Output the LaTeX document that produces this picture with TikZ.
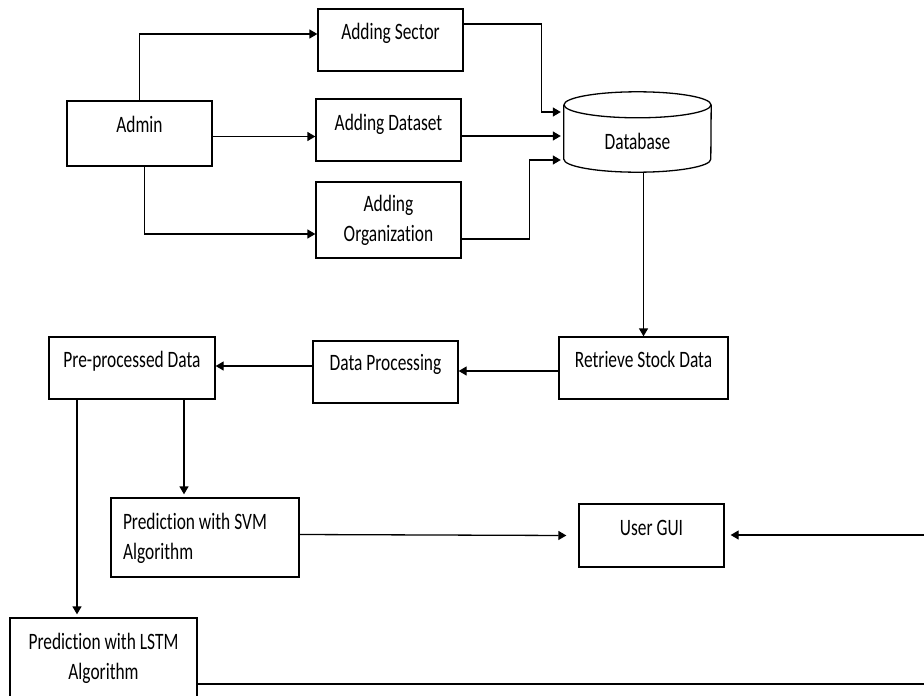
\documentclass[tikz,border=0pt]{standalone}
\usepackage{fontspec}
\setmainfont{Carlito}[FakeStretch=0.74, Ligatures=NoCommon]
\usepackage{tikz}
\usetikzlibrary{arrows.meta, positioning, calc}

\begin{document}
\begin{tikzpicture}[x=1pt, y=-1pt,
    box/.style={draw, line width=1.3pt, inner sep=0pt, align=center,
      font=\fontsize{23.5}{30}\selectfont},
    arr/.style={line width=1.3pt, -{Triangle[length=8pt, width=9pt]}},
    plain/.style={line width=1.3pt}]
  \useasboundingbox (0,0) rectangle (924,696);

  % Admin and what it adds
  \node[box, minimum width=145pt, text height=31pt, text depth=34pt] (admin) at (139.5,133.5) {Admin};
  \node[box, minimum width=145pt, text height=30pt, text depth=32pt] (sector) at (390.5,40) {Adding Sector};
  \node[box, minimum width=145pt, text height=31pt, text depth=31pt] (dataset) at (388.5,130) {Adding Dataset};
  \node[box, minimum width=145pt, text height=59pt, text depth=17pt] (org) at (388.5,220) {Adding\\Organization};

  % Database
  \node[inner sep=0pt, minimum width=147pt, text height=57pt, text depth=23pt,
    font=\fontsize{23.5}{30}\selectfont] (db) at (637.5,132) {Database};
  \draw[plain] ([yshift=-13pt]db.north) ellipse [x radius=73.5pt, y radius=13pt];
  \draw[plain] ([yshift=-13pt]db.north west) -- ([yshift=13pt]db.south west)
    arc [start angle=180, end angle=360, x radius=73.5pt, y radius=13pt]
    -- ([yshift=-13pt]db.north east);

  % Processing chain
  \node[box, minimum width=169pt, text height=30pt, text depth=32pt] (retrieve) at (643.5,368) {Retrieve Stock Data};
  \node[box, minimum width=145pt, text height=29pt, text depth=33pt] (proc) at (385.5,372) {Data Processing};
  \node[box, minimum width=166pt, text height=30pt, text depth=32pt] (pre) at (132,368) {Pre-processed Data};

  % Predictions and GUI
  \node[box, inner xsep=12pt, text width=164pt, align=flush left, text height=31pt, text depth=48pt] (svm) at (205,537.5) {Prediction with SVM\\Algorithm};
  \node[box, minimum width=145pt, text height=31pt, text depth=32pt] (gui) at (651.5,535.5) {User GUI};
  \node[box, minimum width=187pt, text height=61pt, text depth=19pt] (lstm) at (103.5,658) {Prediction with LSTM\\Algorithm};

  \coordinate (edgeA) at (924,535);
  \coordinate (edgeB) at (924,684);

  % Admin arrows
  \draw[arr] (admin.north) |- ([yshift=6pt]sector.west);
  \draw[arr] ([yshift=-3pt]admin.east) -- ([yshift=-3pt]admin.east -| dataset.west);
  \draw[arr] ([xshift=5pt]admin.south) |- ([yshift=-14pt]org.west);

  % Into the database
  \draw[arr] ([yshift=16pt]sector.east) -| ([xshift=-22pt, yshift=20pt]db.west) -- ([xshift=-3pt, yshift=20pt]db.west);
  \draw[arr] ([yshift=-6pt]dataset.east) -- ([xshift=-3pt, yshift=-4pt]db.west);
  \draw[arr] ([yshift=-19pt]org.east) -| ([xshift=-34pt, yshift=-28pt]db.west) -- ([xshift=-3pt, yshift=-28pt]db.west);

  % Down and left
  \draw[arr] (db.south -| retrieve.north) -- (retrieve.north);
  \draw[arr] ([yshift=-3pt]retrieve.west) -- ([yshift=-3pt]retrieve.west -| proc.east);
  \draw[arr] ([yshift=6pt]proc.west) -- ([yshift=6pt]proc.west -| pre.east);
  \draw[arr] ([xshift=52pt]pre.south) -- ([xshift=52pt, yshift=3pt]pre.south |- svm.north);
  \draw[arr] ([xshift=-55pt]pre.south) -- ([xshift=-55pt, yshift=3pt]pre.south |- lstm.north);

  % To the GUI
  \draw[arr] ([yshift=3pt]svm.east) -- ([xshift=-12pt]gui.west);
  \draw[arr] (edgeA) -- ([xshift=6pt]gui.east |- edgeA);
  \draw[plain] ([yshift=-26pt]lstm.east) -- (edgeB);
\end{tikzpicture}
\end{document}
